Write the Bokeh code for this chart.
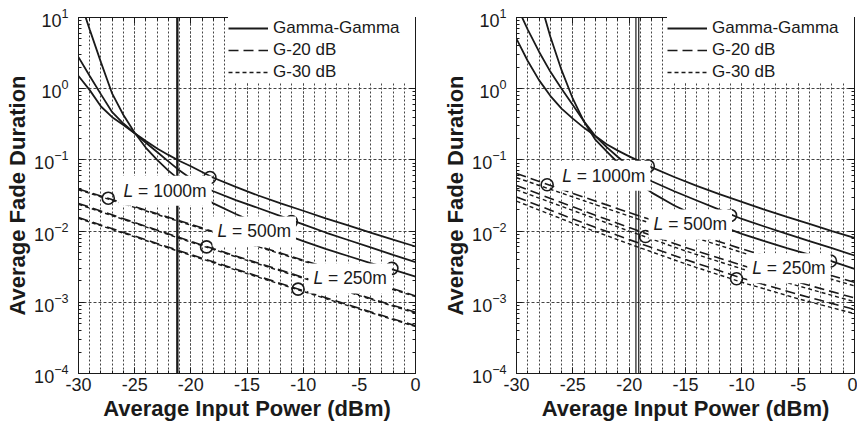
from bokeh.plotting import figure
from bokeh.layouts import row
from bokeh.models import (Span, Label, FixedTicker, LinearAxis, LogAxis, Legend,
                          LegendItem, Range1d)
from bokeh.embed import file_html
from bokeh.resources import INLINE

FONT = "Liberation Sans"
INK = "#1a1a1a"
GRID = "#444444"

# ---------------- data ----------------
X_TICKS = [-30, -25, -20, -15, -10, -5, 0]
X_TICK_LABELS = ["-30", "-25", "-20", "-15", "-10", "-5", "0"]
X_MINOR = list(range(-30, 1))
Y_TICKS = [1e-4, 1e-3, 1e-2, 1e-1, 1e0, 1e1]
Y_MINOR = [m * d for d in [1e-4, 1e-3, 1e-2, 1e-1, 1e0] for m in range(2, 10)]

X_GG = [-30, -29, -28, -27, -26, -25, -24, -23, -22, -21, -20, -19, -18,
        -16, -14, -12, -10, -8, -6, -4, -2, 0]
X_G = [-30, -25, -20, -15, -10, -5, 0]

# left panel: Gamma-Gamma
L_GG_1000 = [1.51, 0.955, 0.562, 0.398, 0.309, 0.237, 0.184, 0.145, 0.1175, 0.0966,
             0.0813, 0.0676, 0.0562, 0.0417, 0.0316, 0.0245, 0.0193, 0.0151, 0.0120,
             0.00955, 0.00759, 0.00608]
L_GG_500 = [2.77, 1.51, 0.832, 0.468, 0.324, 0.237, 0.174, 0.129, 0.0955, 0.0708,
            0.0550, 0.0427, 0.0363, 0.0272, 0.0211, 0.0162, 0.01245, 0.00955, 0.0075,
            0.00589, 0.00462, 0.00366]
L_GG_250 = [20.0, 6.76, 2.34, 0.851, 0.427, 0.240, 0.148, 0.100, 0.0708, 0.0525,
            0.0407, 0.0316, 0.0245, 0.0174, 0.0126, 0.00944, 0.00724, 0.00562, 0.00447,
            0.00355, 0.00288, 0.00229]
# left panel: G-20 dB / G-30 dB
L_G20_1000 = [0.0389, 0.0221, 0.01245, 0.00692, 0.00389, 0.00219, 0.00123]
L_G20_500 = [0.0245, 0.0132, 0.00716, 0.00398, 0.00224, 0.00127, 0.000724]
L_G20_250 = [0.0155, 0.00851, 0.00468, 0.0026, 0.00146, 0.000822, 0.000468]
L_G30_1000 = [0.0380, 0.0215, 0.0121, 0.00675, 0.00380, 0.00213, 0.00120]
L_G30_500 = [0.0238, 0.0129, 0.00700, 0.00388, 0.00218, 0.00124, 0.000705]
L_G30_250 = [0.0151, 0.00830, 0.00456, 0.00253, 0.00142, 0.000800, 0.000456]

# right panel: Gamma-Gamma
R_GG_1000 = [5.01, 2.45, 1.32, 0.794, 0.525, 0.380, 0.282, 0.216, 0.166, 0.135,
             0.112, 0.0944, 0.0785, 0.0575, 0.0432, 0.0331, 0.0257, 0.0200, 0.0158,
             0.0126, 0.0100, 0.00805]
R_GG_500 = [14.8, 6.76, 3.31, 1.74, 1.0, 0.589, 0.347, 0.216, 0.151, 0.110,
            0.0813, 0.0596, 0.0501, 0.0363, 0.0269, 0.0200, 0.0148, 0.0116, 0.00912,
            0.00724, 0.00575, 0.00454]
R_GG_250 = [158.0, 63.1, 19.1, 5.42, 1.82, 0.723, 0.342, 0.192, 0.132, 0.0912,
            0.0631, 0.0452, 0.0347, 0.0229, 0.0162, 0.0120, 0.00912, 0.00724, 0.00575,
            0.00468, 0.00376, 0.00295]
# right panel: G-20 dB / G-30 dB
R_G20_1000 = [0.0646, 0.0339, 0.0182, 0.0100, 0.00562, 0.00324, 0.00191]
R_G20_500 = [0.0437, 0.0219, 0.0112, 0.00589, 0.00331, 0.00191, 0.00115]
R_G20_250 = [0.0302, 0.0148, 0.00759, 0.00398, 0.00219, 0.00129, 0.000794]
R_G30_1000 = [0.0562, 0.0302, 0.0162, 0.00891, 0.00501, 0.00288, 0.0017]
R_G30_500 = [0.0380, 0.0195, 0.0100, 0.00525, 0.00295, 0.0017, 0.00102]
R_G30_250 = [0.0263, 0.0129, 0.00661, 0.00347, 0.00191, 0.00112, 0.000692]

# markers
L_CIRC_X = [-18.3, -11.05, -2.1, -27.35, -18.6, -10.45]
L_CIRC_Y = [0.0566, 0.0136, 0.0030, 0.029, 0.0060, 0.00153]
R_CIRC_X = [-18.3, -11.0, -2.13, -27.28, -18.55, -10.47]
R_CIRC_Y = [0.0817, 0.0166, 0.0038, 0.0447, 0.0084, 0.00214]

# curve labels
LABEL_TEXT = ["= 1000m", "= 500m", "= 250m"]
L_LABEL_X = [-26.44, -18.07, -9.53]
L_LABEL_Y = [0.037, 0.0099, 0.00216]
R_LABEL_X = [-26.39, -18.28, -9.52]
R_LABEL_Y = [0.060, 0.0124, 0.0030]

# vertical reference lines
L_VLINES = [-21.2]
R_VLINES = [-19.4, -19.15]

LEGEND_LABELS = ["Gamma-Gamma", "G-20 dB", "G-30 dB"]


def style_ticks(ax):
    ax.axis_line_color = INK
    ax.major_tick_line_color = INK
    ax.minor_tick_line_color = INK
    ax.major_tick_in = 6
    ax.major_tick_out = 0
    ax.minor_tick_in = 3
    ax.minor_tick_out = 0


def make_panel(width, min_right, gg, g20, g30, vlines, vwidth, cx, cy, lx, ly):
    p = figure(width=width, height=429, x_range=Range1d(-30, 0),
               y_range=Range1d(1e-4, 10), y_axis_type="log",
               output_backend="svg", toolbar_location=None,
               min_border_left=78, min_border_right=min_right,
               min_border_top=17, min_border_bottom=56)
    p.background_fill_color = "white"
    p.border_fill_color = "white"
    p.outline_line_color = INK
    p.outline_line_width = 1

    xt = FixedTicker(ticks=X_TICKS, minor_ticks=X_MINOR)
    yt = FixedTicker(ticks=Y_TICKS, minor_ticks=Y_MINOR)

    for ax in p.xaxis:
        ax.ticker = xt
        ax.major_label_overrides = dict(zip(X_TICKS, X_TICK_LABELS))
        ax.axis_label = "Average Input Power (dBm)"
        ax.major_label_standoff = 4
        ax.axis_label_standoff = 2
    for ax in p.yaxis:
        ax.ticker = yt
        ax.axis_label = "Average Fade Duration"
        ax.major_label_standoff = 10
        ax.axis_label_standoff = 1
    for ax in list(p.xaxis) + list(p.yaxis):
        ax.axis_label_text_font = FONT
        ax.axis_label_text_font_style = "bold"
        ax.axis_label_text_font_size = "22px"
        ax.axis_label_text_color = INK
        ax.major_label_text_font = FONT
        ax.major_label_text_font_size = "18px"
        ax.major_label_text_color = INK
        style_ticks(ax)

    top = LinearAxis(ticker=xt, major_label_text_font_size="1px",
                     major_label_text_color=None, major_label_standoff=0)
    right = LogAxis(ticker=yt, major_label_text_font_size="1px",
                    major_label_text_color=None, major_label_standoff=0)
    style_ticks(top)
    style_ticks(right)
    p.add_layout(top, "above")
    p.add_layout(right, "right")

    p.xgrid.ticker = xt
    p.ygrid.ticker = yt
    p.xgrid.grid_line_color = GRID
    p.xgrid.grid_line_dash = "2 2"
    p.xgrid.grid_line_width = 1
    p.xgrid.minor_grid_line_color = GRID
    p.xgrid.minor_grid_line_dash = "2 2"
    p.xgrid.minor_grid_line_width = 1
    p.ygrid.grid_line_color = GRID
    p.ygrid.grid_line_dash = "3 2"
    p.ygrid.grid_line_width = 1
    p.ygrid.minor_grid_line_color = None

    r_gg = None
    for ys in gg:
        r = p.line(X_GG, ys, line_color=INK, line_width=1.8)
        r_gg = r_gg or r
    r_g20 = None
    for ys in g20:
        r = p.line(X_G, ys, line_color=INK, line_width=1.6, line_dash="10 5")
        r_g20 = r_g20 or r
    r_g30 = None
    for ys in g30:
        r = p.line(X_G, ys, line_color=INK, line_width=1.4, line_dash="4 3")
        r_g30 = r_g30 or r

    p.scatter(cx, cy, marker="circle", size=12, fill_color=None,
              line_color=INK, line_width=1.6)

    for v in vlines:
        p.add_layout(Span(location=v, dimension="height", line_color=INK,
                          line_width=vwidth))

    for x, y, t in zip(lx, ly, LABEL_TEXT):
        p.add_layout(Label(x=x, y=y, text="L", text_font=FONT,
                           text_font_style="italic", text_font_size="17.5px",
                           text_color=INK, text_baseline="middle",
                           background_fill_color="white", padding=5))
        p.add_layout(Label(x=x, y=y, x_offset=14.6, text=t, text_font=FONT,
                           text_font_size="17.5px", text_color=INK,
                           text_baseline="middle",
                           background_fill_color="white", padding=5))

    legend = Legend(items=[LegendItem(label=LEGEND_LABELS[0], renderers=[r_gg]),
                           LegendItem(label=LEGEND_LABELS[1], renderers=[r_g20]),
                           LegendItem(label=LEGEND_LABELS[2], renderers=[r_g30])],
                    location="top_right", margin=0, padding=6, spacing=0,
                    glyph_width=40, glyph_height=22, label_height=22,
                    label_width=142, label_standoff=5,
                    label_text_font=FONT, label_text_font_size="17px",
                    label_text_color=INK, background_fill_color="white",
                    background_fill_alpha=1.0, border_line_color=None)
    p.add_layout(legend)
    return p


p1 = make_panel(438, 23,
                [L_GG_1000, L_GG_500, L_GG_250],
                [L_G20_1000, L_G20_500, L_G20_250],
                [L_G30_1000, L_G30_500, L_G30_250],
                L_VLINES, 2.4, L_CIRC_X, L_CIRC_Y, L_LABEL_X, L_LABEL_Y)
p2 = make_panel(419, 3,
                [R_GG_1000, R_GG_500, R_GG_250],
                [R_G20_1000, R_G20_500, R_G20_250],
                [R_G30_1000, R_G30_500, R_G30_250],
                R_VLINES, 1.2, R_CIRC_X, R_CIRC_Y, R_LABEL_X, R_LABEL_Y)

layout = row(p1, p2)
open("out.html", "w").write(file_html(layout, INLINE))
